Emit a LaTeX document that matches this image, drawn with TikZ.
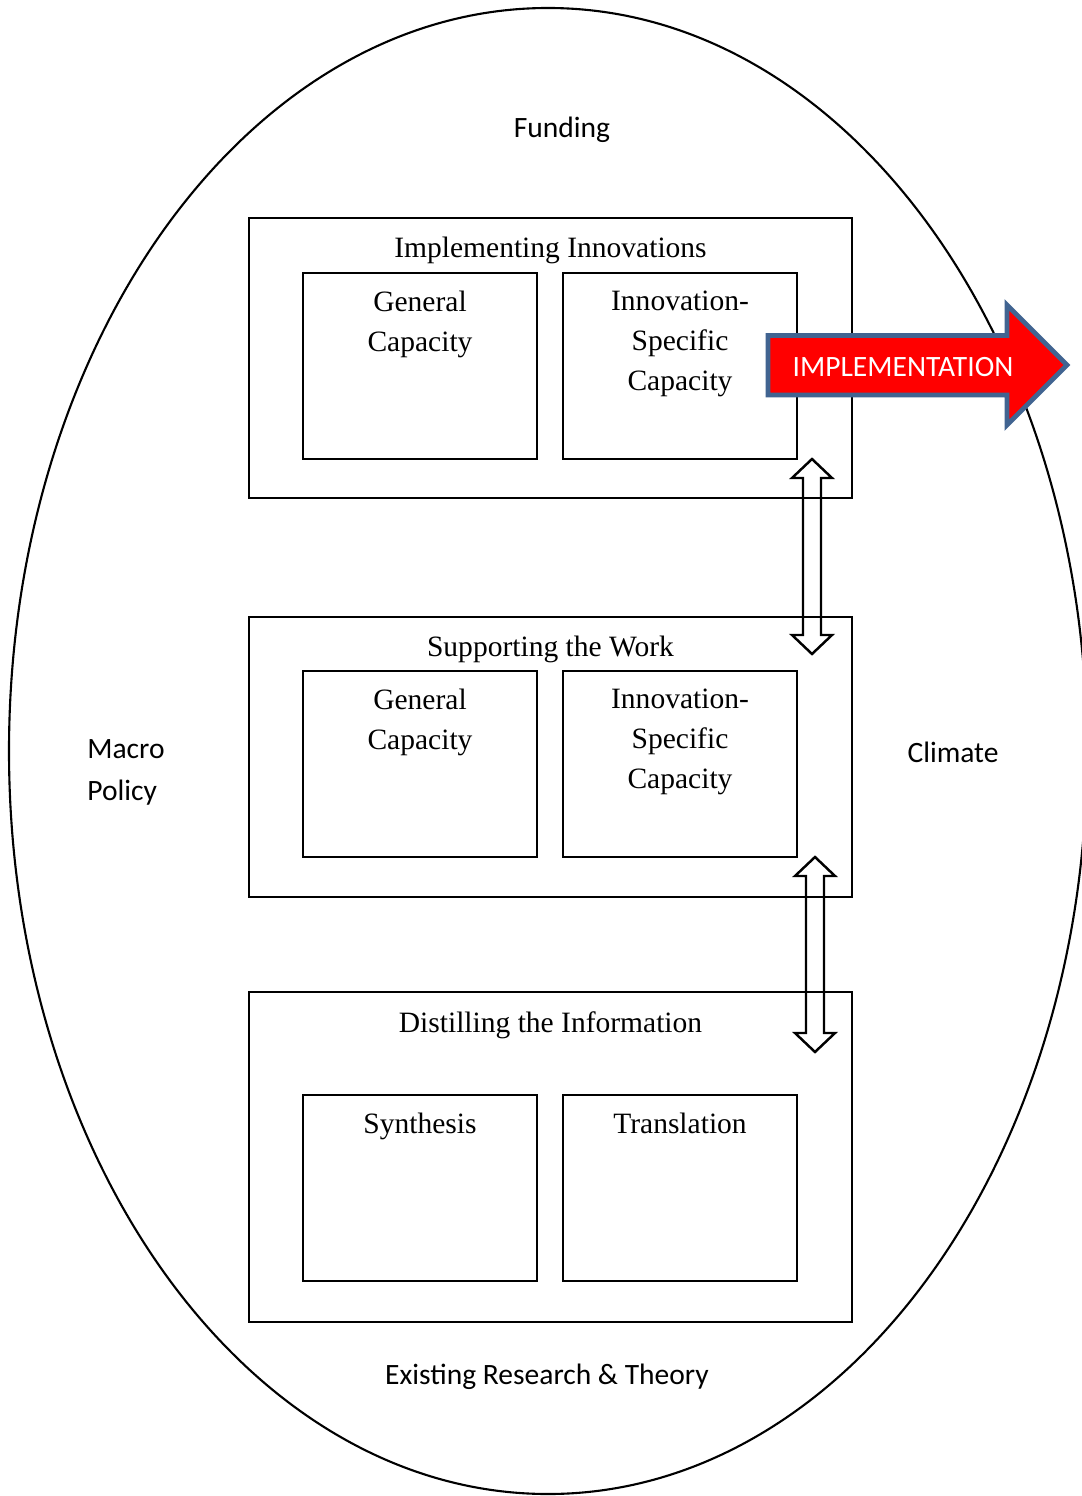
\documentclass[tikz,border=0pt]{standalone}
\usepackage{fontspec}
\setmainfont{Liberation Serif}
\newfontfamily\calibri{Carlito}
\usetikzlibrary{positioning}
\definecolor{implred}{RGB}{255,0,0}
\definecolor{implblue}{RGB}{65,100,145}

\tikzset{
  outerbox/.style={draw,line width=1pt,minimum width=12.06cm,inner sep=0pt},
  innerbox/.style={draw,line width=1pt,minimum width=4.68cm,minimum height=3.72cm,inner sep=0pt},
  boxtext/.style={inner sep=0pt,align=center,font=\fontsize{16.8}{22.7}\selectfont},
  sidetext/.style={inner sep=0pt,align=left,font=\calibri\fontsize{16.8}{23.8}\selectfont},
  dblarrow/.style={draw,line width=1.4pt,line join=miter},
}

\begin{document}
\begin{tikzpicture}[x=0.02cm,y=-0.02cm]
  \useasboundingbox (0,0) rectangle (1081,1496);
  % outer ellipse
  \draw[line width=1.2pt] (548,751) ellipse [x radius=539, y radius=743];

  % the three levels
  \node[outerbox,minimum height=5.6cm] (impl) at (550.5,358) {};
  \node[outerbox,minimum height=5.6cm] (supp) at (550.5,757) {};
  \node[outerbox,minimum height=6.6cm] (dist) at (550.5,1157) {};

  \node[boxtext,below=0.4cm of impl.north] (implT) {Implementing Innovations};
  \node[boxtext,below=0.4cm of supp.north] (suppT) {Supporting the Work};
  \node[boxtext,below=0.4cm of dist.north] (distT) {Distilling the Information};

  \node[innerbox] (gc1) at (420,366) {};
  \node[innerbox] (isc1) at (680,366) {};
  \node[innerbox] (gc2) at (420,764) {};
  \node[innerbox] (isc2) at (680,764) {};
  \node[innerbox] (syn) at (420,1188) {};
  \node[innerbox] (trans) at (680,1188) {};

  \node[boxtext,below=0.37cm of gc1.north] {General\\Capacity};
  \node[boxtext,below=0.37cm of isc1.north] {Innovation-\\Specific\\Capacity};
  \node[boxtext,below=0.37cm of gc2.north] {General\\Capacity};
  \node[boxtext,below=0.37cm of isc2.north] {Innovation-\\Specific\\Capacity};
  \node[boxtext,below=0.37cm of syn.north] {Synthesis};
  \node[boxtext,below=0.37cm of trans.north] {Translation};

  % context labels
  \node[sidetext] (fund) at (562,130) {Funding};
  \node[sidetext,anchor=west] (macro) at (87,772) {Macro\\Policy};
  \node[sidetext] (clim) at (953,752) {Climate};
  \node[sidetext] (resth) at (547,1377) {Existing Research \& Theory};

  % double arrows between levels
  \coordinate (up1) at (812,459);
  \coordinate (up2) at (815,857);
  \draw[dblarrow] (up1) -- ++(20,19) -- ++(-11,0) -- ++(0,157) -- ++(11,0) -- ++(-20,19)
    -- ++(-20,-19) -- ++(11,0) -- ++(0,-157) -- ++(-11,0) -- cycle;
  \draw[dblarrow] (up2) -- ++(20,19) -- ++(-11,0) -- ++(0,157) -- ++(11,0) -- ++(-20,19)
    -- ++(-20,-19) -- ++(11,0) -- ++(0,-157) -- ++(-11,0) -- cycle;

  % implementation arrow
  \draw[fill=implred,draw=implblue,line width=2.8pt,line join=miter]
    (768,335.5) -- (1007,335.5) -- (1007,305) -- (1067,365) -- (1007,425)
    -- (1007,395) -- (768,395) -- cycle;
  \node[sidetext,text=white] (implA) at (903,367) {IMPLEMENTATION};
\end{tikzpicture}
\end{document}
